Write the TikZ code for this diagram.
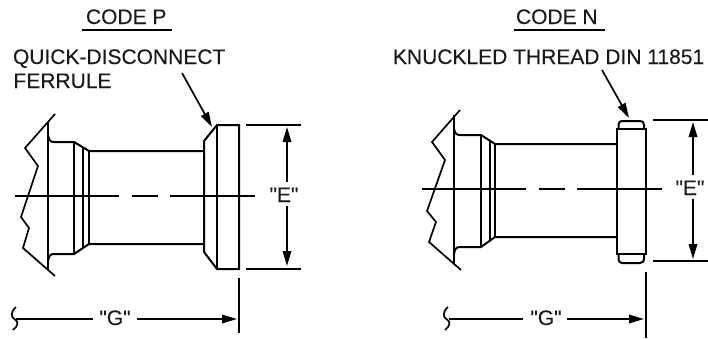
\documentclass[tikz,border=0pt]{standalone}
\usepackage{fontspec}
\setmainfont{Liberation Sans}[Ligatures=TeXOff,FakeBold=0.12]
\usetikzlibrary{arrows.meta}
\definecolor{ink}{gray}{0.1}
\tikzset{
  part/.style={draw=black,line width=2pt,line join=miter},
  thin part/.style={draw=black,line width=1.7pt},
  dimline/.style={draw=black,line width=1.7pt},
  dimarrow/.style={dimline,-{Triangle[length=15pt,width=8.5pt]}},
  label/.style={inner sep=0pt,outer sep=0pt,anchor=base west,text=ink,font=\fontsize{21}{21}\selectfont},
  clabel/.style={label,anchor=base},
}
\begin{document}
\begin{tikzpicture}[x=1pt,y=-1pt]
\path[use as bounding box,fill=white] (0,0) rectangle (708,338);
% ---------- Labels ----------
\node[label] (codeP) at (86,24) {CODE P};
\node[label] (codeN) at (516,24) {CODE N};
\node[label] (qd) at (13,64) {QUICK-DISCONNECT};
\node[label] (fer) at (13.5,88) {FERRULE};
\node[label] (kn) at (393,64) {KNUCKLED THREAD DIN 11851};
\node[clabel] (eL) at (284,202) {"E"};
\node[clabel] (eR) at (690,195) {"E"};
\node[clabel] (gL) at (115,325) {"G"};
\node[clabel] (gR) at (546,325) {"G"};
\draw[dimline] (82,30) -- (172,30);
\draw[dimline] (514,30) -- (605,30);
% ---------- Coordinates ----------
\coordinate (lsL) at (182,73); \coordinate (ltL) at (212,127);
\coordinate (lsR) at (602,70); \coordinate (ltR) at (629,118);
% leaders
\draw[dimarrow] (lsL) -- (ltL);
\draw[dimarrow] (lsR) -- (ltR);
% ---------- Left fitting ----------
\draw[thin part] (55,114) -- (25,148) -- (38,166) -- (21,217) -- (29,228) -- (23,248) -- (55,276);
\draw[part] (48,122) -- (48,270);
\draw[part] (48,135) .. controls (49,140) and (50,142) .. (54,142) -- (74,142) -- (89,151) -- (204,151);
\draw[part] (48,261) .. controls (49,256) and (50,254) .. (54,254) -- (74,254) -- (89,244) -- (204,244);
\draw[part] (74,142) -- (74,254);
\draw[part] (83,148) -- (83,248);
\draw[part] (89,151) -- (89,244);
\draw[part] (204,141) -- (204,252) -- (217,269) -- (239,269) -- (239,125) -- (217,125) -- cycle;
\draw[part] (217,125) -- (217,269);
\draw[thin part] (15,196) -- (119,196);
\draw[thin part] (132,196) -- (158,196);
\draw[thin part] (170,196) -- (255,196);
% dims
\draw[dimline] (246,125) -- (301,125);
\draw[dimline] (246,269) -- (301,269);
\coordinate (etL) at (287,127); \coordinate (ebL) at (287,266);
\coordinate (emtL) at (287,182); \coordinate (embL) at (287,206);
\draw[dimarrow] (emtL) -- (etL);
\draw[dimarrow] (embL) -- (ebL);
\draw[dimline] (239,278) -- (239,333);
\coordinate (gtL) at (237,319);
\draw[dimline] (16,319) -- (93,319);
\draw[dimarrow] (137,319) -- (gtL);
\draw[dimline] (16,307) .. controls (10,312) and (11,318) .. (15,319.5) .. controls (19,322) and (18,326) .. (13,330);
% ---------- Right fitting ----------
\draw[thin part] (460,110) -- (432,142) -- (445,160) -- (427,211) -- (436,222) -- (429,242) -- (461,270);
\draw[part] (454,115) -- (454,263);
\draw[part] (454,129) .. controls (455,133) and (456,135) .. (460,135) -- (481,135) -- (495,144) -- (616,144);
\draw[part] (454,254) .. controls (455,249) and (456,247) .. (460,247) -- (481,247) -- (495,237) -- (616,237);
\draw[part] (481,135) -- (481,247);
\draw[part] (490,141) -- (490,241);
\draw[part] (495,144) -- (495,237);
\draw[part] (617,129) rectangle (646,254);
\draw[part] (618.5,129) -- (618.5,125) .. controls (618.5,122) and (620,121) .. (622,121) -- (640,121) .. controls (642.5,121) and (644,122) .. (644,125) -- (644,129);
\draw[part] (618.5,254) -- (618.5,258) .. controls (618.5,261.5) and (620,263) .. (622,263) -- (640,263) .. controls (642.5,263) and (644,261.5) .. (644,258) -- (644,254);
\draw[thin part] (422,189) -- (526,189);
\draw[thin part] (539,189) -- (565,189);
\draw[thin part] (577,189) -- (662,189);
% dims
\draw[dimline] (653,120) -- (708,120);
\draw[dimline] (653,261) -- (708,261);
\coordinate (etR) at (693,122); \coordinate (ebR) at (693,259);
\coordinate (emtR) at (693,175); \coordinate (embR) at (693,199);
\draw[dimarrow] (emtR) -- (etR);
\draw[dimarrow] (embR) -- (ebR);
\draw[dimline] (646,272) -- (646,338);
\coordinate (gtR) at (644,319);
\draw[dimline] (449,319) -- (523,319);
\draw[dimarrow] (567,319) -- (gtR);
\draw[dimline] (448,307) .. controls (442,312) and (443,318) .. (447,319.5) .. controls (451,322) and (450,326) .. (445,330);
\end{tikzpicture}
\end{document}
